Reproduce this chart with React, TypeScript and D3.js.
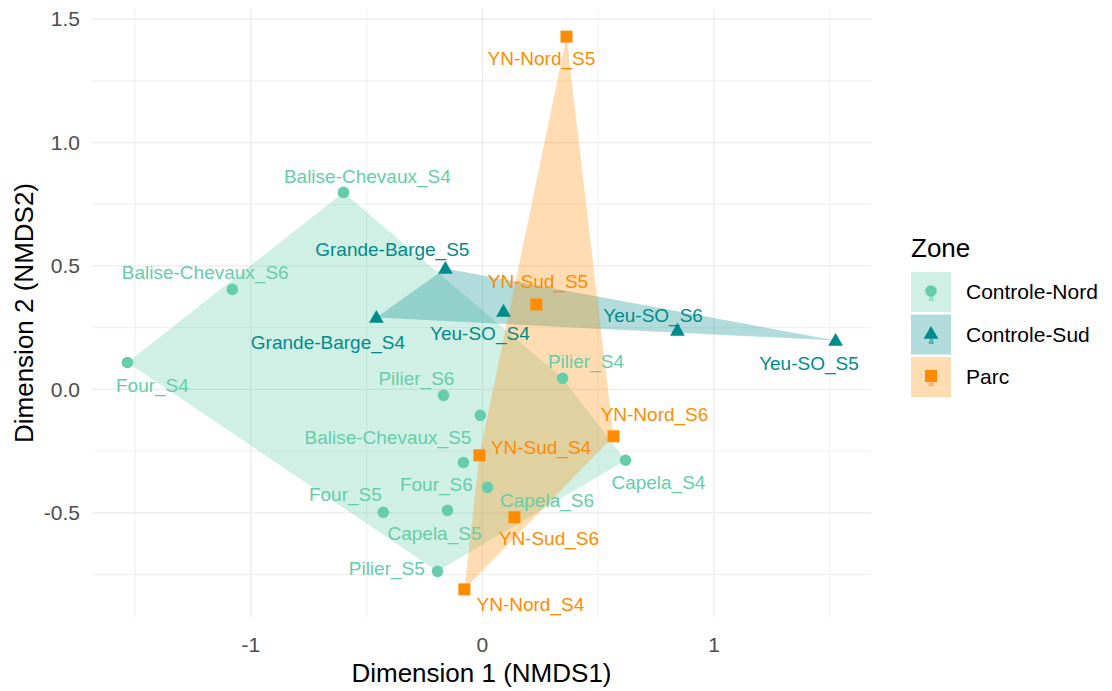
import React from 'react';
import * as d3 from 'd3';

const zones = ['Controle-Nord', 'Controle-Sud', 'Parc'];
const zoneColors = ['#66CDAA', '#008B8B', '#FF8C00'];

const siteNames = [
  'Balise-Chevaux_S4', 'Balise-Chevaux_S5', 'Balise-Chevaux_S6',
  'Four_S4', 'Four_S5', 'Four_S6',
  'Pilier_S4', 'Pilier_S5', 'Pilier_S6',
  'Capela_S4', 'Capela_S5', 'Capela_S6',
  'Grande-Barge_S4', 'Grande-Barge_S5',
  'Yeu-SO_S4', 'Yeu-SO_S5', 'Yeu-SO_S6',
  'YN-Nord_S4', 'YN-Nord_S5', 'YN-Nord_S6',
  'YN-Sud_S4', 'YN-Sud_S5', 'YN-Sud_S6',
];
const siteZones = [
  'Controle-Nord', 'Controle-Nord', 'Controle-Nord',
  'Controle-Nord', 'Controle-Nord', 'Controle-Nord',
  'Controle-Nord', 'Controle-Nord', 'Controle-Nord',
  'Controle-Nord', 'Controle-Nord', 'Controle-Nord',
  'Controle-Sud', 'Controle-Sud',
  'Controle-Sud', 'Controle-Sud', 'Controle-Sud',
  'Parc', 'Parc', 'Parc',
  'Parc', 'Parc', 'Parc',
];
const nmds1 = [
  -0.600, -0.009, -1.080,
  -1.533, -0.428, -0.082,
  0.346, -0.194, -0.168,
  0.618, -0.151, 0.022,
  -0.458, -0.160,
  0.091, 1.525, 0.842,
  -0.078, 0.363, 0.566,
  -0.013, 0.233, 0.138,
];
const nmds2 = [
  0.798, -0.105, 0.405,
  0.109, -0.498, -0.296,
  0.045, -0.737, -0.024,
  -0.287, -0.490, -0.397,
  0.291, 0.490,
  0.316, 0.198, 0.239,
  -0.810, 1.429, -0.190,
  -0.267, 0.344, -0.518,
];
// repelled label positions (data units)
const labelNmds1 = [
  -0.497, -0.408, -1.197,
  -1.425, -0.592, -0.199,
  0.447, -0.413, -0.285,
  0.760, -0.207, 0.279,
  -0.667, -0.389,
  -0.011, 1.410, 0.737,
  0.207, 0.255, 0.743,
  0.253, 0.240, 0.287,
];
const labelNmds2 = [
  0.862, -0.194, 0.474,
  0.016, -0.425, -0.385,
  0.113, -0.725, 0.045,
  -0.377, -0.583, -0.449,
  0.190, 0.567,
  0.227, 0.105, 0.300,
  -0.870, 1.340, -0.101,
  -0.235, 0.437, -0.603,
];

const xTicks = [-1, 0, 1];
const xTickLabels = ['-1', '0', '1'];
const yTicks = [-0.5, 0, 0.5, 1, 1.5];
const yTickLabels = ['-0.5', '0.0', '0.5', '1.0', '1.5'];

const FONT = "'Liberation Sans', Arial, sans-serif";

function expand(ext: [number, number]): [number, number] {
  const r = ext[1] - ext[0];
  return [ext[0] - r * 0.05, ext[1] + r * 0.05];
}

function minors(ticks: number[], dom: [number, number]) {
  const step = ticks[1] - ticks[0];
  const out: number[] = [];
  for (let v = ticks[0] - step / 2; v <= dom[1]; v += step) {
    if (v >= dom[0]) out.push(v);
  }
  return out;
}

function Shape({ zone, x, y, color }: { zone: string; x: number; y: number; color: string }) {
  if (zone === 'Controle-Nord') return <circle cx={x} cy={y} r={5.8} fill={color} />;
  if (zone === 'Parc') return <rect x={x - 6} y={y - 6} width={12} height={12} fill={color} />;
  const p = d3.symbol().type(d3.symbolTriangle).size(95)()!;
  return <path d={p} transform={`translate(${x},${y + 1})`} fill={color} />;
}

export default function App() {
  const W = 1112, H = 691;
  const left = 92, right = 871, top = 9, bottom = 617;
  const xDom = expand(d3.extent(nmds1) as [number, number]);
  const yDom = expand(d3.extent(nmds2) as [number, number]);
  const x = d3.scaleLinear().domain(xDom).range([left, right]);
  const y = d3.scaleLinear().domain(yDom).range([bottom, top]);
  const color = d3.scaleOrdinal<string, string>().domain(zones).range(zoneColors);

  const pts = siteNames.map((n, i) => ({
    name: n, zone: siteZones[i], px: x(nmds1[i]), py: y(nmds2[i]),
    lx: x(labelNmds1[i]), ly: y(labelNmds2[i]),
  }));

  const hulls = zones.map((z) => {
    const p = pts.filter((d) => d.zone === z).map((d) => [d.px, d.py] as [number, number]);
    const h = d3.polygonHull(p) || p;
    return { zone: z, d: 'M' + h.map((q) => q.join(',')).join('L') + 'Z' };
  });

  const xMinor = minors(xTicks, xDom);
  const yMinor = minors(yTicks, yDom);
  const grid = '#EBEBEB';

  const legX = 911, legY = 272, keySize = 40, rowH = 42.5;

  return (
    <svg width={W} height={H} style={{ position: 'absolute', left: 0, top: 0, background: '#fff' }} fontFamily={FONT}>
      <rect x={0} y={0} width={W} height={H} fill="#fff" />
      {xMinor.map((v) => (
        <line key={'xm' + v} x1={x(v)} x2={x(v)} y1={top} y2={bottom} stroke={grid} strokeWidth={0.8} />
      ))}
      {yMinor.map((v) => (
        <line key={'ym' + v} y1={y(v)} y2={y(v)} x1={left} x2={right} stroke={grid} strokeWidth={0.8} />
      ))}
      {xTicks.map((v) => (
        <line key={'xM' + v} x1={x(v)} x2={x(v)} y1={top} y2={bottom} stroke={grid} strokeWidth={1.3} />
      ))}
      {yTicks.map((v) => (
        <line key={'yM' + v} y1={y(v)} y2={y(v)} x1={left} x2={right} stroke={grid} strokeWidth={1.3} />
      ))}

      {hulls.map((h) => (
        <path key={h.zone} d={h.d} fill={color(h.zone)} fillOpacity={0.3} stroke="none" />
      ))}

      {pts.map((p) => (
        <Shape key={p.name} zone={p.zone} x={p.px} y={p.py} color={color(p.zone)} />
      ))}

      {pts.map((p) => (
        <text key={'l' + p.name} x={p.lx} y={p.ly} dy="0.35em" textAnchor="middle" fontSize={19} fill={color(p.zone)}>
          {p.name}
        </text>
      ))}

      {xTicks.map((v, i) => (
        <text key={'xt' + v} x={x(v)} y={652} textAnchor="middle" fontSize={21} fill="#4D4D4D">
          {xTickLabels[i]}
        </text>
      ))}
      {yTicks.map((v, i) => (
        <text key={'yt' + v} x={80} y={y(v)} dy="0.35em" textAnchor="end" fontSize={21} fill="#4D4D4D">
          {yTickLabels[i]}
        </text>
      ))}

      <text x={(left + right) / 2} y={682} textAnchor="middle" fontSize={26} fill="#000">
        Dimension 1 (NMDS1)
      </text>
      <text transform={`translate(33,${(top + bottom) / 2}) rotate(-90)`} textAnchor="middle" fontSize={26} fill="#000">
        Dimension 2 (NMDS2)
      </text>

      <text x={legX} y={257} fontSize={26} fill="#000">Zone</text>
      {zones.map((z, i) => {
        const ky = legY + i * rowH;
        const cx = legX + keySize / 2, cy = ky + keySize / 2;
        return (
          <g key={'lg' + z}>
            <rect x={legX} y={ky} width={keySize} height={keySize} fill={color(z)} fillOpacity={0.3} />
            <text x={cx} y={cy + 9} textAnchor="middle" fontSize={9} fill={color(z)}>a</text>
            <Shape zone={z} x={cx} y={cy - 1} color={color(z)} />
            <text x={966} y={cy} dy="0.35em" fontSize={21} fill="#000">{z}</text>
          </g>
        );
      })}
    </svg>
  );
}
